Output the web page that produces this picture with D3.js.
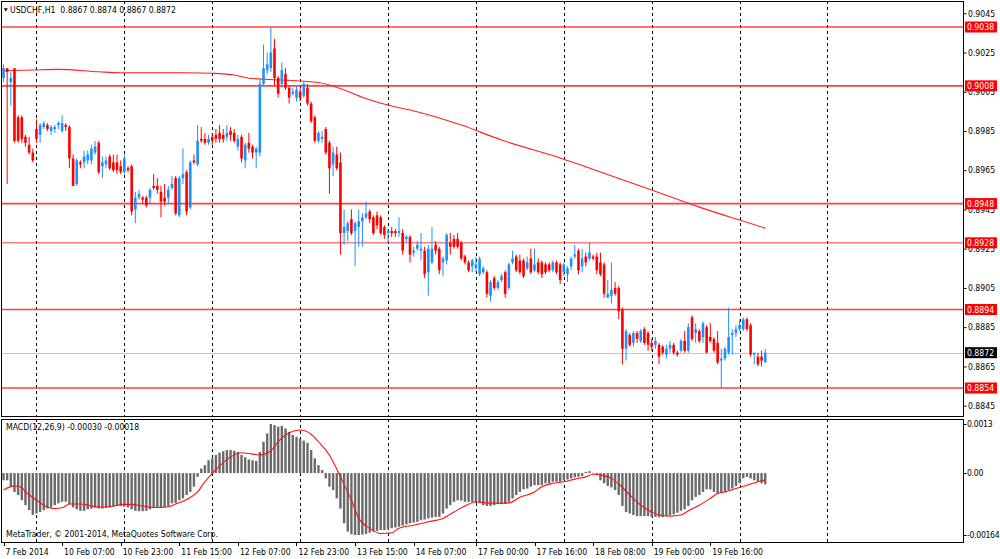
<!DOCTYPE html>
<html>
<head>
<meta charset="utf-8">
<script src="https://cdn.jsdelivr.net/npm/d3@7"></script>
<style>
body { margin: 0; background: #fff; }
svg text { font-family: "DejaVu Sans Condensed", "DejaVu Sans", sans-serif; font-stretch: condensed; font-size: 8.6px; fill: #000; }
</style>
</head>
<body>
<div id="chart"></div>
<script>
var title = "USDCHF,H1  0.8867 0.8874 0.8867 0.8872"
var macdTitle = "MACD(12,26,9) -0.00030 -0.00018"
var copyright = "MetaTrader, \u00a9 2001-2014, MetaQuotes Software Corp."

// hourly bars, 7 Feb 2014 15:00 .. 20 Feb 2014 08:00
var open = [
0.9012,0.9017,0.9010,0.9017,0.8992,0.8992,0.8982,0.8978,0.8974,0.8986,
0.8983,0.8987,0.8988,0.8985,0.8986,0.8988,0.8985,0.8988,0.8987,0.8971,
0.8958,0.8969,0.8969,0.8970,0.8970,0.8974,0.8979,0.8967,0.8968,0.8972,
0.8969,0.8969,0.8967,0.8964,0.8966,0.8967,0.8945,0.8951,0.8951,0.8951,
0.8951,0.8957,0.8957,0.8954,0.8951,0.8951,0.8956,0.8961,0.8942,0.8961,
0.8964,0.8946,0.8970,0.8968,0.8981,0.8981,0.8979,0.8982,0.8983,0.8984,
0.8983,0.8982,0.8985,0.8984,0.8977,0.8982,0.8970,0.8979,0.8977,0.8974,
0.8974,0.9009,0.9016,0.9017,0.9027,0.9012,0.9009,0.9014,0.9007,0.9004,
0.9002,0.9005,0.9003,0.9007,0.8999,0.8992,0.8980,0.8981,0.8986,0.8979,
0.8968,0.8973,0.8969,0.8933,0.8934,0.8940,0.8934,0.8936,0.8939,0.8941,
0.8944,0.8941,0.8942,0.8941,0.8936,0.8933,0.8934,0.8934,0.8933,0.8933,
0.8930,0.8931,0.8923,0.8925,0.8924,0.8924,0.8913,0.8918,0.8927,0.8925,
0.8918,0.8919,0.8928,0.8930,0.8930,0.8928,0.8921,0.8918,0.8916,0.8915,
0.8912,0.8913,0.8913,0.8901,0.8910,0.8905,0.8909,0.8913,0.8905,0.8918,
0.8921,0.8919,0.8919,0.8915,0.8920,0.8914,0.8918,0.8918,0.8917,0.8917,
0.8914,0.8918,0.8917,0.8913,0.8912,0.8916,0.8921,0.8924,0.8916,0.8921,
0.8920,0.8921,0.8921,0.8918,0.8917,0.8900,0.8901,0.8905,0.8905,0.8894,
0.8874,0.8881,0.8877,0.8882,0.8878,0.8884,0.8882,0.8877,0.8876,0.8876,
0.8875,0.8871,0.8874,0.8876,0.8872,0.8873,0.8878,0.8873,0.8890,0.8882,
0.8883,0.8880,0.8885,0.8880,0.8879,0.8877,0.8868,0.8869,0.8872,0.8881,
0.8882,0.8884,0.8884,0.8889,0.8886,0.8871,0.8870,0.8870,0.8867]
var high = [
0.9019,0.9017,0.9015,0.9017,0.8993,0.8993,0.8983,0.8982,0.8976,0.8991,
0.8989,0.8990,0.8989,0.8988,0.8988,0.8990,0.8993,0.8989,0.8988,0.8973,
0.8971,0.8970,0.8975,0.8975,0.8978,0.8980,0.8980,0.8972,0.8972,0.8973,
0.8973,0.8973,0.8970,0.8973,0.8967,0.8968,0.8954,0.8955,0.8952,0.8952,
0.8956,0.8963,0.8961,0.8957,0.8958,0.8957,0.8962,0.8962,0.8962,0.8976,
0.8965,0.8970,0.8973,0.8988,0.8987,0.8984,0.8983,0.8984,0.8986,0.8988,
0.8986,0.8988,0.8987,0.8986,0.8983,0.8983,0.8979,0.8984,0.8978,0.8977,
0.9011,0.9029,0.9025,0.9038,0.9032,0.9013,0.9020,0.9017,0.9008,0.9007,
0.9008,0.9007,0.9010,0.9009,0.9000,0.8993,0.8985,0.8985,0.8987,0.8980,
0.8977,0.8977,0.8974,0.8945,0.8939,0.8945,0.8939,0.8945,0.8943,0.8949,
0.8945,0.8942,0.8944,0.8942,0.8937,0.8935,0.8936,0.8935,0.8941,0.8935,
0.8932,0.8932,0.8926,0.8929,0.8933,0.8926,0.8927,0.8936,0.8929,0.8926,
0.8921,0.8933,0.8933,0.8932,0.8933,0.8929,0.8922,0.8919,0.8920,0.8921,
0.8921,0.8916,0.8914,0.8909,0.8911,0.8909,0.8912,0.8914,0.8918,0.8924,
0.8922,0.8922,0.8920,0.8921,0.8925,0.8925,0.8920,0.8919,0.8918,0.8918,
0.8919,0.8919,0.8918,0.8918,0.8916,0.8921,0.8927,0.8925,0.8925,0.8923,
0.8928,0.8922,0.8923,0.8923,0.8918,0.8909,0.8918,0.8908,0.8906,0.8895,
0.8884,0.8882,0.8883,0.8883,0.8884,0.8885,0.8883,0.8879,0.8880,0.8877,
0.8876,0.8876,0.8878,0.8877,0.8873,0.8879,0.8883,0.8887,0.8891,0.8887,
0.8884,0.8888,0.8886,0.8887,0.8880,0.8883,0.8874,0.8875,0.8895,0.8884,
0.8886,0.8889,0.8890,0.8890,0.8887,0.8872,0.8872,0.8873,0.8874]
var low = [
0.9010,0.8958,0.8998,0.8979,0.8979,0.8979,0.8977,0.8973,0.8969,0.8979,
0.8979,0.8986,0.8985,0.8983,0.8984,0.8986,0.8984,0.8985,0.8966,0.8957,
0.8957,0.8966,0.8966,0.8968,0.8968,0.8973,0.8963,0.8961,0.8966,0.8965,
0.8964,0.8963,0.8963,0.8963,0.8964,0.8942,0.8938,0.8950,0.8948,0.8946,
0.8948,0.8955,0.8953,0.8941,0.8947,0.8948,0.8955,0.8942,0.8941,0.8958,
0.8942,0.8945,0.8968,0.8967,0.8979,0.8978,0.8978,0.8978,0.8979,0.8979,
0.8979,0.8980,0.8980,0.8979,0.8975,0.8969,0.8966,0.8974,0.8971,0.8966,
0.8972,0.9008,0.9014,0.9015,0.9008,0.9002,0.9007,0.9006,0.8999,0.9003,
0.9000,0.9000,0.9002,0.8998,0.8989,0.8979,0.8979,0.8979,0.8973,0.8953,
0.8962,0.8965,0.8922,0.8927,0.8929,0.8932,0.8916,0.8926,0.8926,0.8940,
0.8938,0.8932,0.8935,0.8932,0.8930,0.8928,0.8931,0.8931,0.8931,0.8922,
0.8928,0.8918,0.8921,0.8924,0.8919,0.8910,0.8901,0.8917,0.8922,0.8912,
0.8911,0.8917,0.8922,0.8925,0.8925,0.8919,0.8917,0.8913,0.8913,0.8913,
0.8911,0.8912,0.8900,0.8898,0.8904,0.8904,0.8908,0.8900,0.8904,0.8917,
0.8913,0.8912,0.8910,0.8914,0.8912,0.8913,0.8912,0.8910,0.8912,0.8913,
0.8913,0.8912,0.8907,0.8911,0.8908,0.8914,0.8920,0.8912,0.8913,0.8916,
0.8919,0.8919,0.8912,0.8911,0.8900,0.8900,0.8897,0.8901,0.8889,0.8866,
0.8868,0.8875,0.8875,0.8877,0.8877,0.8876,0.8873,0.8873,0.8874,0.8866,
0.8871,0.8869,0.8872,0.8871,0.8870,0.8872,0.8872,0.8872,0.8878,0.8877,
0.8877,0.8877,0.8872,0.8877,0.8872,0.8866,0.8854,0.8868,0.8871,0.8871,
0.8880,0.8883,0.8883,0.8883,0.8870,0.8866,0.8865,0.8865,0.8867]
var close = [
0.9017,0.9015,0.9012,0.8980,0.8980,0.8981,0.8979,0.8974,0.8970,0.8981,
0.8988,0.8989,0.8986,0.8987,0.8987,0.8989,0.8989,0.8987,0.8971,0.8957,
0.8970,0.8968,0.8972,0.8973,0.8976,0.8977,0.8964,0.8969,0.8970,0.8966,
0.8965,0.8965,0.8964,0.8971,0.8965,0.8944,0.8951,0.8953,0.8950,0.8947,
0.8955,0.8956,0.8955,0.8949,0.8949,0.8955,0.8958,0.8943,0.8961,0.8963,
0.8944,0.8969,0.8969,0.8980,0.8980,0.8979,0.8981,0.8980,0.8981,0.8981,
0.8981,0.8984,0.8983,0.8980,0.8981,0.8971,0.8978,0.8976,0.8974,0.8976,
0.9009,0.9017,0.9019,0.9025,0.9012,0.9004,0.9016,0.9007,0.9002,0.9005,
0.9006,0.9002,0.9009,0.8999,0.8990,0.8980,0.8984,0.8982,0.8974,0.8966,
0.8974,0.8966,0.8933,0.8936,0.8938,0.8933,0.8938,0.8939,0.8941,0.8943,
0.8940,0.8933,0.8937,0.8933,0.8932,0.8934,0.8933,0.8933,0.8934,0.8924,
0.8931,0.8922,0.8924,0.8927,0.8925,0.8912,0.8925,0.8925,0.8924,0.8914,
0.8920,0.8932,0.8926,0.8926,0.8926,0.8920,0.8918,0.8914,0.8919,0.8917,
0.8920,0.8915,0.8902,0.8908,0.8905,0.8908,0.8911,0.8902,0.8917,0.8920,
0.8914,0.8913,0.8911,0.8918,0.8913,0.8917,0.8913,0.8912,0.8913,0.8914,
0.8918,0.8913,0.8909,0.8917,0.8915,0.8920,0.8922,0.8914,0.8920,0.8918,
0.8923,0.8920,0.8914,0.8912,0.8902,0.8902,0.8904,0.8902,0.8893,0.8874,
0.8883,0.8876,0.8882,0.8879,0.8883,0.8877,0.8876,0.8875,0.8878,0.8870,
0.8872,0.8874,0.8876,0.8872,0.8871,0.8878,0.8873,0.8885,0.8879,0.8884,
0.8878,0.8887,0.8872,0.8878,0.8873,0.8867,0.8869,0.8874,0.8880,0.8882,
0.8884,0.8886,0.8889,0.8884,0.8871,0.8872,0.8866,0.8868,0.8872]

// moving average read at a few bars
var maBars = [0, 8, 15, 26, 32, 41, 50, 57, 63, 67, 76, 86, 95, 98, 106, 111, 125, 136, 152, 163, 177, 190, 201, 208]
var maValues = [0.90157, 0.90161, 0.90164, 0.90152, 0.90147, 0.90147, 0.90147, 0.90144, 0.90135, 0.90119, 0.90110, 0.90097,
    0.90045, 0.90022, 0.89977, 0.89957, 0.89880, 0.89804, 0.89712, 0.89641, 0.89549, 0.89462, 0.89396, 0.89355]

var levels = [0.9038, 0.9008, 0.8948, 0.8928, 0.8894, 0.8854]
var bid = 0.8872
var priceTicks = [0.9045, 0.9025, 0.9005, 0.8985, 0.8965, 0.8945, 0.8925, 0.8905, 0.8885, 0.8865, 0.8845]

// MACD main (histogram), one per bar
var macd = [
-0.00019,-0.00019,-0.00036,-0.00050,-0.00058,-0.00072,-0.00085,-0.00098,-0.00111,-0.00107,
-0.00103,-0.00098,-0.00094,-0.00091,-0.00085,-0.00080,-0.00076,-0.00076,-0.00082,-0.00091,
-0.00096,-0.00100,-0.00100,-0.00096,-0.00094,-0.00091,-0.00094,-0.00094,-0.00092,-0.00091,
-0.00089,-0.00087,-0.00087,-0.00089,-0.00091,-0.00096,-0.00100,-0.00101,-0.00101,-0.00100,
-0.00096,-0.00092,-0.00091,-0.00092,-0.00091,-0.00087,-0.00080,-0.00079,-0.00072,-0.00067,
-0.00058,-0.00050,-0.00036,-0.00010,0.00012,0.00021,0.00034,0.00039,0.00048,0.00054,
0.00058,0.00061,0.00061,0.00059,0.00056,0.00048,0.00042,0.00036,0.00034,0.00032,
0.00056,0.00083,0.00105,0.00130,0.00127,0.00123,0.00125,0.00118,0.00109,0.00101,
0.00096,0.00092,0.00086,0.00080,0.00061,0.00039,0.00021,0.00008,-0.00014,-0.00036,
-0.00045,-0.00067,-0.00094,-0.00133,-0.00155,-0.00162,-0.00164,-0.00164,-0.00163,-0.00161,
-0.00158,-0.00155,-0.00153,-0.00151,-0.00151,-0.00149,-0.00146,-0.00144,-0.00142,-0.00139,
-0.00136,-0.00133,-0.00131,-0.00129,-0.00125,-0.00123,-0.00120,-0.00118,-0.00116,-0.00116,
-0.00107,-0.00094,-0.00085,-0.00076,-0.00072,-0.00073,-0.00076,-0.00076,-0.00076,-0.00079,
-0.00080,-0.00085,-0.00087,-0.00087,-0.00085,-0.00082,-0.00082,-0.00082,-0.00076,-0.00067,
-0.00058,-0.00050,-0.00043,-0.00041,-0.00036,-0.00032,-0.00032,-0.00032,-0.00027,-0.00027,
-0.00023,-0.00023,-0.00023,-0.00019,-0.00017,-0.00014,-0.00011,-0.00010,-0.00008,0.00003,
0.00005,0.00001,-0.00005,-0.00019,-0.00027,-0.00034,-0.00038,-0.00045,-0.00058,-0.00087,
-0.00103,-0.00107,-0.00111,-0.00114,-0.00114,-0.00114,-0.00114,-0.00116,-0.00116,-0.00117,
-0.00117,-0.00114,-0.00111,-0.00109,-0.00105,-0.00100,-0.00096,-0.00087,-0.00072,-0.00063,
-0.00058,-0.00050,-0.00043,-0.00043,-0.00050,-0.00054,-0.00052,-0.00050,-0.00045,-0.00041,
-0.00034,-0.00027,-0.00014,-0.00010,-0.00014,-0.00019,-0.00023,-0.00027,-0.00030]

// signal line read at a few bars
var signalBars = [0, 3, 5, 6, 8, 11, 14, 16, 18, 21, 24, 26, 29, 33, 35, 38, 42, 45, 47, 50, 53, 55, 57, 59, 62, 65, 67, 70,
    73, 75, 78, 81, 84, 86, 89, 92, 95, 97, 100, 103, 106, 108, 112, 116, 120, 123, 126, 129, 132, 135, 138, 141, 145,
    147, 150, 153, 156, 159, 161, 163, 166, 168, 171, 174, 177, 179, 182, 185, 187, 190, 193, 195, 197, 200, 203, 206, 208]
var signalValues = [-0.00045, -0.00034, -0.00038, -0.00050, -0.00064, -0.00085, -0.00094, -0.00092, -0.00082, -0.00082,
    -0.00087, -0.00090, -0.00089, -0.00083, -0.00083, -0.00087, -0.00091, -0.00089, -0.00082, -0.00070, -0.00050,
    -0.00023, -0.00001, 0.00019, 0.00043, 0.00054, 0.00052, 0.00048, 0.00059, 0.00083, 0.00107, 0.00114, 0.00103,
    0.00083, 0.00048, -0.00010, -0.00072, -0.00120, -0.00146, -0.00160, -0.00158, -0.00146, -0.00138, -0.00129,
    -0.00120, -0.00103, -0.00087, -0.00076, -0.00079, -0.00080, -0.00079, -0.00064, -0.00050, -0.00036, -0.00027,
    -0.00023, -0.00016, -0.00010, -0.00003, -0.00005, -0.00014, -0.00029, -0.00058, -0.00085, -0.00103, -0.00111,
    -0.00114, -0.00111, -0.00100, -0.00085, -0.00067, -0.00054, -0.00050, -0.00041, -0.00032, -0.00023, -0.00018]
var macdTicks = [0.0013, 0, -0.00164]
var macdTickLabels = ["0.0013", "0.00", "-0.00164"]

var timeLabels = ["7 Feb 2014", "10 Feb 07:00", "10 Feb 23:00", "11 Feb 15:00", "12 Feb 07:00", "12 Feb 23:00", "13 Feb 15:00",
    "14 Feb 07:00", "17 Feb 00:00", "17 Feb 16:00", "18 Feb 08:00", "19 Feb 00:00", "19 Feb 16:00"]
var timeLabelBars = [0, 16, 32, 48, 64, 80, 96, 112, 129, 145, 161, 177, 193]
var dayStartBars = [9, 33, 57, 81, 105, 129, 153, 177, 201, 225]

var width = 1000, height = 559
var plotRight = 963
var mainTop = 1, mainBottom = 416, macdTop = 419, macdBottom = 542
var bull = "#1e90ff", bear = "#ff0000"
var bodyW = 2.6

var x = d3.scaleLinear().domain([0, 262]).range([3.5, 963])
var y = d3.scaleLinear().domain([0.8854, 0.9038]).range([388, 27])
var ym = d3.scaleLinear().domain([-0.00164, 0.0013]).range([535, 424])

var svg = d3.select("#chart").append("svg")
    .attr("width", width)
    .attr("height", height)

var defs = svg.append("defs")
defs.append("clipPath").attr("id", "clip-main").append("rect")
    .attr("x", 2).attr("y", mainTop + 1).attr("width", plotRight - 2).attr("height", mainBottom - mainTop - 1)
defs.append("clipPath").attr("id", "clip-macd").append("rect")
    .attr("x", 2).attr("y", macdTop + 1).attr("width", plotRight - 2).attr("height", macdBottom - macdTop - 1)

var main = svg.append("g").attr("clip-path", "url(#clip-main)")
var sub = svg.append("g").attr("clip-path", "url(#clip-macd)")

// day separators, both panels
;[[main, mainTop, mainBottom], [sub, macdTop, macdBottom]].forEach(function(p){
    p[0].selectAll("line.grid")
        .data(dayStartBars)
        .enter().append("line")
            .attr("class", "grid")
            .attr("x1", function(d){ return Math.round(x(d)) + 0.5 })
            .attr("x2", function(d){ return Math.round(x(d)) + 0.5 })
            .attr("y1", p[1])
            .attr("y2", p[2])
            .attr("stroke", "#000")
            .attr("stroke-dasharray", "3,3")
})

main.append("line")
    .attr("x1", 0).attr("x2", plotRight)
    .attr("y1", Math.round(y(bid)) + 0.5).attr("y2", Math.round(y(bid)) + 0.5)
    .attr("stroke", "#c8c8c8")

main.selectAll("line.level")
    .data(levels)
    .enter().append("line")
        .attr("class", "level")
        .attr("x1", 0).attr("x2", plotRight)
        .attr("y1", function(d){ return y(d) })
        .attr("y2", function(d){ return y(d) })
        .attr("stroke", "#ff2020")
        .attr("stroke-width", function(d){ return d == 0.8928 ? 1 : 1.6 })
        .attr("stroke-opacity", 0.85)

var maLine = d3.line()
    .x(function(d){ return x(d[0]) })
    .y(function(d){ return y(d[1]) })
    .curve(d3.curveMonotoneX)
main.append("path")
    .datum(d3.zip(maBars, maValues))
    .attr("d", maLine)
    .attr("fill", "none")
    .attr("stroke", "#ff2020")
    .attr("stroke-width", 1.1)

var bars = close.map(function(c, i){
    return { i: i, o: open[i], h: high[i], l: low[i], c: c }
})

var candle = main.selectAll("g.candle")
    .data(bars)
    .enter().append("g")
        .attr("class", "candle")

candle.append("line")
    .attr("x1", function(d){ return x(d.i) })
    .attr("x2", function(d){ return x(d.i) })
    .attr("y1", function(d){ return y(d.h) })
    .attr("y2", function(d){ return y(d.l) })
    .attr("stroke", function(d){ return d.c >= d.o ? bull : bear })
    .attr("stroke-width", 1)

candle.append("rect")
    .attr("x", function(d){ return x(d.i) - bodyW / 2 })
    .attr("width", bodyW)
    .attr("y", function(d){ return y(Math.max(d.o, d.c)) })
    .attr("height", function(d){ return Math.max(1, Math.abs(y(d.o) - y(d.c))) })
    .attr("fill", function(d){ return d.c >= d.o ? bull : bear })

// MACD histogram + signal
sub.selectAll("rect.hist")
    .data(macd)
    .enter().append("rect")
        .attr("class", "hist")
        .attr("x", function(d, i){ return x(i) - 1.2 })
        .attr("width", 2.4)
        .attr("y", function(d){ return Math.min(ym(0), ym(d)) })
        .attr("height", function(d){ return Math.max(0.5, Math.abs(ym(d) - ym(0))) })
        .attr("fill", "#6a6a6a")

var sigLine = d3.line()
    .x(function(d){ return x(d[0]) })
    .y(function(d){ return ym(d[1]) })
    .curve(d3.curveMonotoneX)
sub.append("path")
    .datum(d3.zip(signalBars, signalValues))
    .attr("d", sigLine)
    .attr("fill", "none")
    .attr("stroke", "#ff1010")
    .attr("stroke-width", 1.1)

// frames
svg.append("rect")
    .attr("x", 1.5).attr("y", mainTop + 0.5)
    .attr("width", plotRight - 1).attr("height", mainBottom - mainTop)
    .attr("fill", "none").attr("stroke", "#000")
svg.append("rect")
    .attr("x", 1.5).attr("y", macdTop + 0.5)
    .attr("width", plotRight - 1).attr("height", macdBottom - macdTop)
    .attr("fill", "none").attr("stroke", "#000")

// price axis
var priceAxis = d3.axisRight(y)
    .tickValues(priceTicks)
    .tickFormat(d3.format(".4f"))
    .tickSize(3)
    .tickPadding(1.5)
var pa = svg.append("g")
    .attr("transform", "translate(" + (plotRight + 0.5) + ",0)")
    .call(priceAxis)
pa.select(".domain").remove()
pa.selectAll("text").attr("font-size", null).attr("font-family", null)

var tags = svg.selectAll("g.tag")
    .data(levels.map(function(d){ return { v: d, fill: "#ff0000" } }).concat([{ v: bid, fill: "#000" }]))
    .enter().append("g")
        .attr("class", "tag")
        .attr("transform", function(d){ return "translate(965," + y(d.v) + ")" })
tags.append("rect")
    .attr("x", 0).attr("y", -5.5)
    .attr("width", 32).attr("height", 11)
    .attr("fill", function(d){ return d.fill })
tags.append("text")
    .attr("x", 2).attr("y", 3.2)
    .style("fill", "#fff")
    .text(function(d){ return d3.format(".4f")(d.v) })

var macdAxis = d3.axisRight(ym)
    .tickValues(macdTicks)
    .tickFormat(function(d, i){ return macdTickLabels[i] })
    .tickSize(3)
    .tickPadding(0.5)
var ma = svg.append("g")
    .attr("transform", "translate(" + (plotRight + 0.5) + ",0)")
    .call(macdAxis)
ma.select(".domain").remove()
ma.selectAll("text").attr("font-size", null).attr("font-family", null).attr("letter-spacing", -0.3)

// time axis
var ta = svg.append("g")
ta.selectAll("line")
    .data(timeLabelBars)
    .enter().append("line")
        .attr("x1", function(d){ return Math.round(x(d)) + 0.5 })
        .attr("x2", function(d){ return Math.round(x(d)) + 0.5 })
        .attr("y1", macdBottom)
        .attr("y2", macdBottom + 4)
        .attr("stroke", "#000")
ta.selectAll("text")
    .data(timeLabels)
    .enter().append("text")
        .attr("x", function(d, i){ return Math.max(2, x(timeLabelBars[i]) + 2) })
        .attr("y", 555)
        .text(function(d){ return d })

// titles
svg.append("path")
    .attr("d", "M3.8,8.3 L7.8,8.3 L5.8,11.6 Z")
    .attr("fill", "#000")
svg.append("text")
    .attr("x", 10).attr("y", 13)
    .attr("xml:space", "preserve")
    .text(title)
svg.append("text")
    .attr("x", 6).attr("y", 430)
    .text(macdTitle)
svg.append("text")
    .attr("x", 6).attr("y", 537)
    .text(copyright)
</script>
</body>
</html>
